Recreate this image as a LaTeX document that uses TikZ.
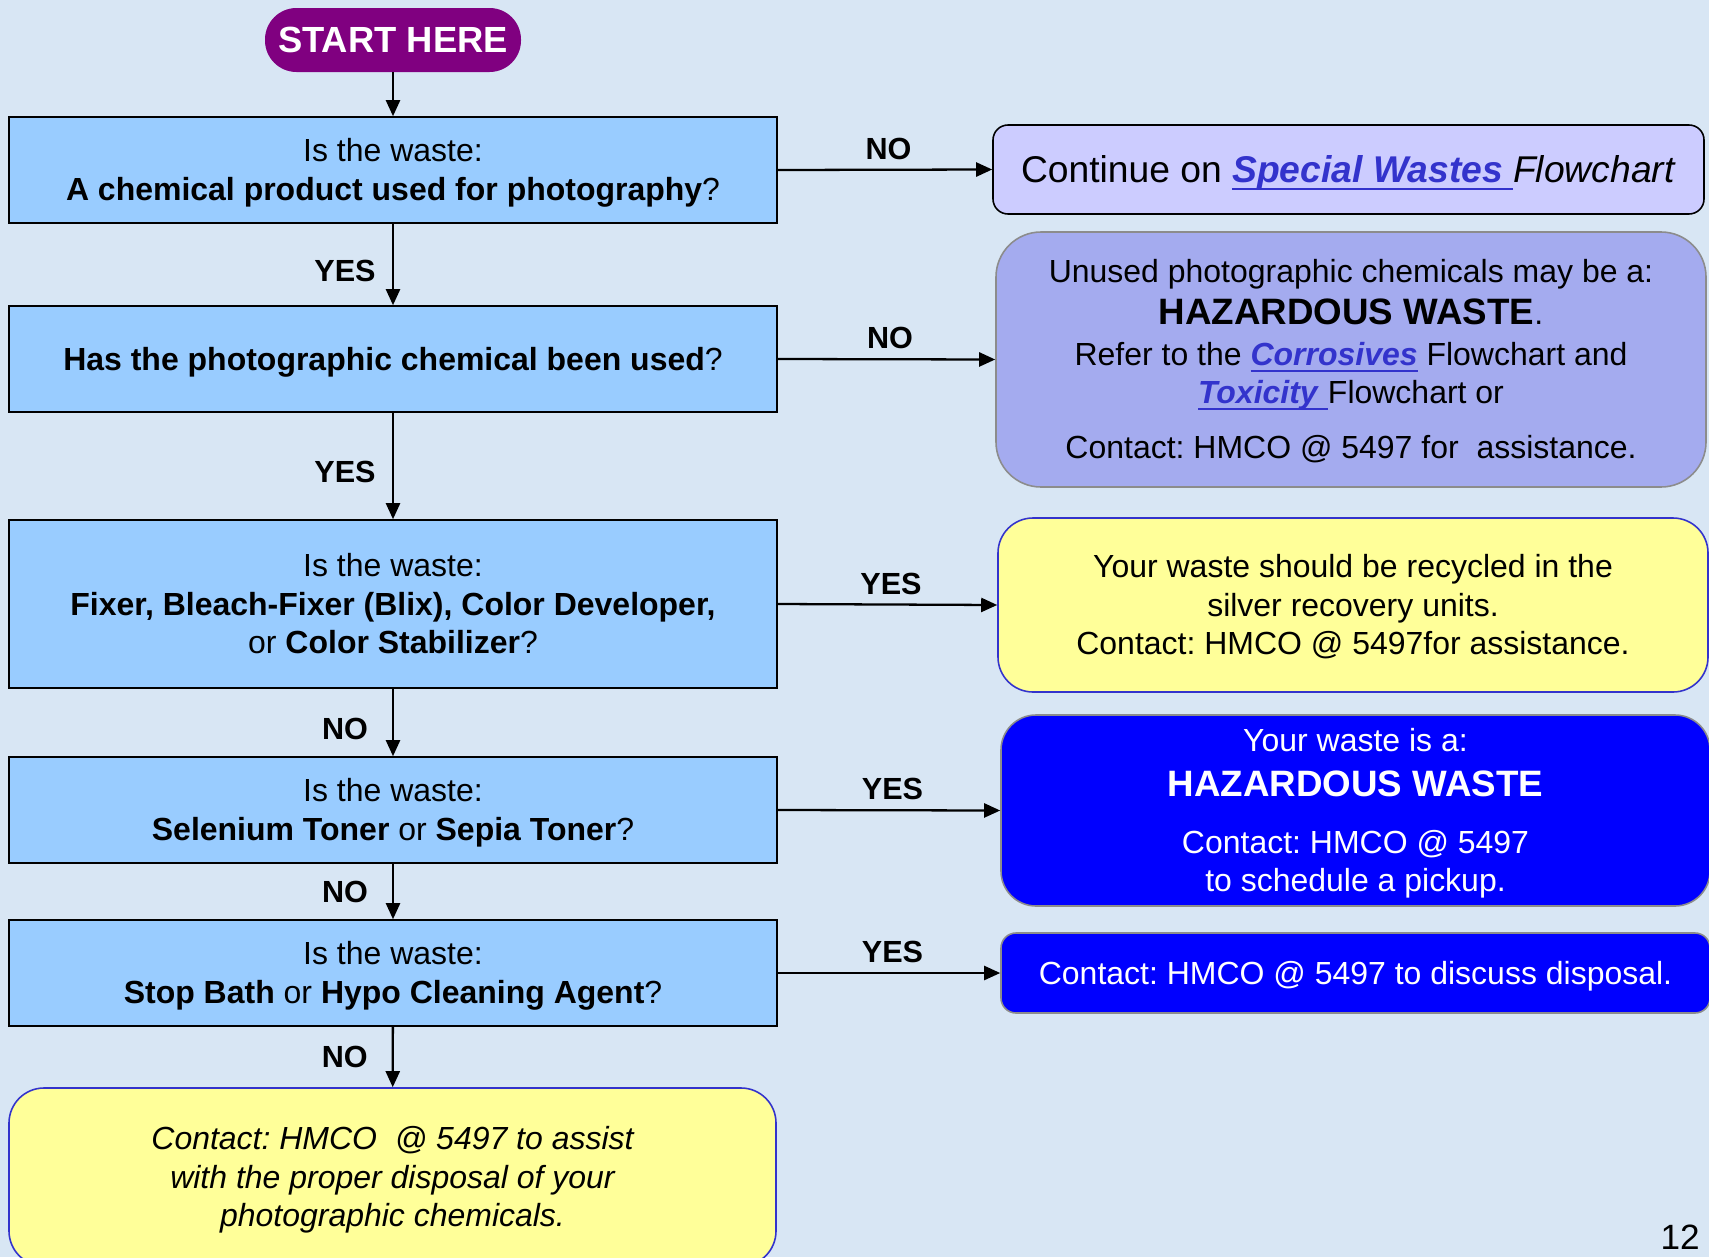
\documentclass[tikz,border=0pt]{standalone}
\usepackage{fontspec}
\setmainfont{Liberation Sans}
\usepackage{xcolor}
\usetikzlibrary{arrows.meta,positioning}
\definecolor{paper}{HTML}{D8E6F4}
\definecolor{askblue}{HTML}{99CCFF}
\definecolor{lilac}{HTML}{CCCCFF}
\definecolor{peri}{HTML}{A4ABEF}
\definecolor{lemon}{HTML}{FFFF99}
\definecolor{royal}{HTML}{0000FF}
\definecolor{plum}{HTML}{800080}
\definecolor{link}{HTML}{3333CC}
\frenchspacing
\newsavebox{\linkbox}
\newcommand{\flowlink}[1]{\textcolor{link}{\sbox{\linkbox}{\textbf{\textit{#1}}}\rlap{\rule[-0.2em]{\wd\linkbox}{1.1pt}}\usebox{\linkbox}}}
\newcommand{\slidestrut}{\rule[-0.212em]{0pt}{1.117em}}
\newcommand{\boxlines}[1]{\slidestrut#1\slidestrut}

\begin{document}
\begin{tikzpicture}[x=1cm, y=1cm,
  every node/.style={font=\fontsize{18.2}{21.8}\selectfont, inner sep=0pt},
  ask/.style={align=center, draw=black, line width=0.9pt, fill=askblue, minimum width=15.36cm, minimum height=2.12cm},
  reply/.style={align=center, rounded corners=0.7cm, line width=0.9pt, minimum width=14.2cm},
  flow/.style={black, line width=1.3pt, -{Triangle[length=3.2mm, width=2.8mm]}},
  ans/.style={font=\fontsize{17.4}{20}\selectfont\bfseries}]
% page and its background
\useasboundingbox (0,0) rectangle (34.18,-25.14);
\clip (0,0) rectangle (34.18,-25.14);
\fill[paper] (0,0) rectangle (34.18,-25.14);
% left column: the questions
\node[fill=plum, text=white, rounded corners=0.63cm, minimum width=5.12cm, minimum height=1.28cm, font=\fontsize{20.7}{24}\selectfont\bfseries] (start) at (7.86,-0.80) {START HERE};
\node[ask] (q1) at (7.86,-3.40) {\boxlines{Is the waste:\\\textbf{A chemical product used for photography}?}};
\node[ask] (q2) at (7.86,-7.18) {\boxlines{\textbf{Has the photographic chemical been used}?}};
\node[ask, minimum height=3.36cm] (q3) at (7.86,-12.08) {\boxlines{Is the waste:\\\textbf{Fixer, Bleach-Fixer (Blix), Color Developer,}\\or \textbf{Color Stabilizer}?}};
\node[ask] (q4) at (7.86,-16.20) {\boxlines{Is the waste:\\\textbf{Selenium Toner} or \textbf{Sepia Toner}?}};
\node[ask] (q5) at (7.86,-19.46) {\boxlines{Is the waste:\\\textbf{Stop Bath} or \textbf{Hypo Cleaning Agent}?}};
\node[reply, draw=link, fill=lemon, minimum width=15.34cm, minimum height=3.56cm, font=\fontsize{18.2}{21.8}\selectfont\itshape] (last) at (7.85,-23.54) {\boxlines{Contact: HMCO\ \ @ 5497 to assist\\with the proper disposal of your\\photographic chemicals.}};
% right column: the outcomes
\node[reply, draw=black, fill=lilac, rounded corners=0.3cm, minimum width=14.22cm, minimum height=1.78cm, font=\fontsize{21.2}{25}\selectfont] (r1) at (26.97,-3.39) {\boxlines{Continue on \flowlink{Special Wastes }\textit{Flowchart}}};
\node[reply, draw=black!45, fill=peri, rounded corners=0.9cm, minimum height=5.10cm] (r2) at (27.02,-7.19) {\boxlines{Unused photographic chemicals may be a:\\[2pt]{\fontsize{20.9}{25}\selectfont\bfseries HAZARDOUS WASTE}.\\[1.5pt]Refer to the \flowlink{Corrosives} Flowchart and\\\flowlink{Toxicity }Flowchart or\\[9.5pt]Contact: HMCO @ 5497 for\ \ assistance.}};
\node[reply, draw=link, fill=lemon, minimum height=3.48cm] (r3) at (27.06,-12.10) {\boxlines{Your waste should be recycled in the\\silver recovery units.\\Contact: HMCO @ 5497for assistance.}};
\node[reply, draw=black!45, fill=royal, text=white, minimum width=14.18cm, minimum height=3.82cm] (r4) at (27.11,-16.21) {\boxlines{Your waste is a:\\[4pt]{\fontsize{20.9}{25}\selectfont\bfseries HAZARDOUS WASTE}\\[10.5pt]Contact: HMCO @ 5497\\to schedule a pickup.}};
\node[reply, draw=black!45, fill=royal, text=white, rounded corners=0.3cm, minimum width=14.18cm, minimum height=1.60cm] (r5) at (27.11,-19.46) {\boxlines{Contact: HMCO @ 5497 to discuss disposal.}};
\node[font=\fontsize{20}{24}\selectfont, anchor=east] (pageno) at (34.0,-24.74) {12};
% down the questions
\draw[flow] (start) -- (q1);
\draw[flow] (q1) -- node[ans, xshift=-0.96cm, yshift=-0.12cm] {YES} (q2);
\draw[flow] (q2) -- node[ans, xshift=-0.96cm, yshift=-0.12cm] {YES} (q3);
\draw[flow] (q3) -- node[ans, xshift=-0.96cm, yshift=-0.12cm] {NO} (q4);
\draw[flow] (q4) -- node[ans, xshift=-0.96cm] {NO} (q5);
\draw[flow] (q5) -- node[ans, xshift=-0.96cm] {NO} (last);
% across to the outcomes
\draw[flow] (q1.east) -- node[ans, above=0.18cm, xshift=0.07cm] {NO} (r1.west);
\draw[flow] (q2.east) -- node[ans, above=0.18cm, xshift=0.07cm] {NO} (r2.west);
\draw[flow] (q3.east) -- node[ans, above=0.18cm, xshift=0.07cm] {YES} (r3.west);
\draw[flow] (q4.east) -- node[ans, above=0.18cm, xshift=0.07cm] {YES} (r4.west);
\draw[flow] (q5.east) -- node[ans, above=0.18cm, xshift=0.07cm] {YES} (r5.west);
\end{tikzpicture}
\end{document}
